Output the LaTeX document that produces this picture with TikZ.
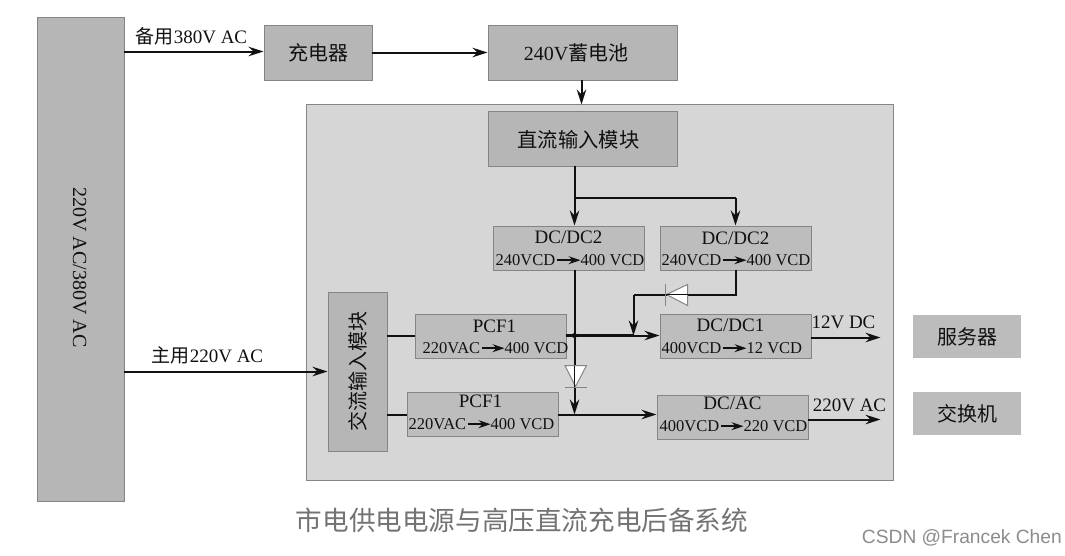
\documentclass[tikz,border=0pt]{standalone}
\usepackage{fontspec}
\setmainfont{Liberation Serif}
\newfontfamily\cj{Noto Sans CJK SC}
\newfontfamily\wm{Liberation Sans}
\usetikzlibrary{arrows.meta}
\definecolor{boxfill}{HTML}{B6B6B6}
\definecolor{innerfill}{HTML}{BDBDBD}
\definecolor{boxline}{HTML}{858585}
\definecolor{panelfill}{HTML}{D6D6D6}
\definecolor{ink}{HTML}{111111}
\newcommand{\fsz}[1]{\fontsize{#1}{#1}\selectfont}
\tikzset{
  x=1pt,y=-1pt,
  blockbox/.style={draw=boxline,fill=boxfill,line width=1pt,inner sep=0pt,text=ink,anchor=north west},
  innerbox/.style={blockbox,fill=innerfill},
  title/.style={inner sep=0pt,text=ink,font=\fsz{19},yshift=-0.7pt},
  sub/.style={inner sep=0pt,text=ink,font=\fsz{16.5},anchor=west,yshift=-0.7pt},
  lab/.style={inner sep=0pt,text=ink,font=\fsz{19},yshift=-0.7pt},
  wire/.style={draw=ink,line width=2pt},
  feed/.style={wire,-{Stealth[length=15pt,width=9.5pt,inset=5pt]}},
  tiny/.style={draw=ink,line width=1.5pt,-{Stealth[length=12pt,width=8pt,inset=4pt]},shorten <=1.5pt,shorten >=0pt},
  diode/.style={draw=boxline,fill=white,line width=1pt},
  bar/.style={draw=boxline,line width=1.3pt},
}
\begin{document}
\begin{tikzpicture}
\useasboundingbox (0.5,0.5) rectangle (1065.5,555.5);
\fill[white] (0.5,0.5) rectangle (1065.5,555.5);
% panel
\node[draw=boxline,fill=panelfill,line width=1pt,inner sep=0pt,anchor=north west,minimum width=587pt,minimum height=376pt] (panel) at (306,104) {};
% blocks
\node[blockbox,minimum width=87pt,minimum height=484pt] (mains) at (37,17) {};
\node[text=ink,inner sep=0pt,rotate=-90,font=\fsz{20}] (mainslab) at (80,268) {220V AC/380V AC};
\node[blockbox,minimum width=108pt,minimum height=55pt,font=\cj\fsz{20}] (charger) at (264,25) {充电器};
\node[blockbox,minimum width=189pt,minimum height=55pt] (batt) at (488,25) {};
\node[text=ink,inner sep=0pt,font=\fsz{20}] (battlab) at (576.5,53) {240V{\cj 蓄电池}};
\node[blockbox,minimum width=189pt,minimum height=55pt] (dcin) at (488,111) {};
\node[text=ink,inner sep=0pt,font=\cj\fsz{20.3}] (dcinlab) at (579,140) {直流输入模块};
\node[blockbox,minimum width=59pt,minimum height=159pt] (acin) at (328,292) {};
\node[text=ink,inner sep=0pt,rotate=90,font=\cj\fsz{20}] (aclab) at (358,372) {交流输入模块};
\node[blockbox,draw=none,fill=boxfill!92!white,minimum width=108pt,minimum height=43pt,font=\cj\fsz{20}] (server) at (913,315) {服务器};
\node[blockbox,draw=none,fill=boxfill!92!white,minimum width=108pt,minimum height=43pt,font=\cj\fsz{20}] (switch) at (913,392) {交换机};
% converters
\node[innerbox,minimum width=151pt,minimum height=44pt] (dca) at (493,226) {};
\node[innerbox,minimum width=151pt,minimum height=44pt] (dcb) at (660,226) {};
\node[innerbox,minimum width=151pt,minimum height=44pt] (pfa) at (415,314) {};
\node[innerbox,minimum width=151pt,minimum height=44pt] (pfb) at (407,392) {};
\node[innerbox,minimum width=151pt,minimum height=44pt] (dcone) at (660,314) {};
\node[innerbox,minimum width=151pt,minimum height=44pt] (dcac) at (657,395) {};
% converter texts
\node[title] (dcaT) at (569,237) {DC/DC2};
\node[sub] (dcaL) at (496,260) {240VCD};
\node[sub] (dcaR) at (581,260) {400 VCD};
\node[title] (dcbT) at (736,238) {DC/DC2};
\node[sub] (dcbL) at (662,260) {240VCD};
\node[sub] (dcbR) at (747,260) {400 VCD};
\node[title] (pfaT) at (495,326) {PCF1};
\node[sub] (pfaL) at (423,348) {220VAC};
\node[sub] (pfaR) at (505,348) {400 VCD};
\node[title] (pfbT) at (481,401) {PCF1};
\node[sub] (pfbL) at (409,424) {220VAC};
\node[sub] (pfbR) at (491,424) {400 VCD};
\node[title] (dcoT) at (731,325) {DC/DC1};
\node[sub] (dcoL) at (662,348) {400VCD};
\node[sub] (dcoR) at (747,348) {12 VCD};
\node[title] (dcxT) at (733,403) {DC/AC};
\node[sub] (dcxL) at (660,426) {400VCD};
\node[sub] (dcxR) at (744,426) {220 VCD};
\foreach \n in {dca,dcb,pfa,pfb,dco,dcx}{\draw[tiny] (\n L) -- (\n R);}
% labels
\node[lab] (l380) at (192,36) {{\cj 备用}380V AC};
\node[lab] (l220) at (208,355) {{\cj 主用}220V AC};
\node[lab] (l12) at (844,322) {12V DC};
\node[lab] (l220b) at (850,405) {220V AC};
% named junctions
\coordinate (m380) at (124,52);
\coordinate (m220) at (124,372);
\coordinate (c1) at (372,53);
\coordinate (b1) at (488,53);
\coordinate (bo) at (582,80);
\coordinate (pt) at (582,105);
\coordinate (do) at (575,166);
\coordinate (dj) at (575,198);
\coordinate (dcaT0) at (575,226);
\coordinate (dbj) at (736,198);
\coordinate (dcbT0) at (736,226);
\coordinate (dcaB) at (575,270);
\coordinate (hv) at (575,415);
\coordinate (hj) at (575,336);
\coordinate (dcbB) at (736,270);
\coordinate (dk) at (736,295);
\coordinate (dl) at (634,295);
\coordinate (dm) at (634,336);
\coordinate (o12) at (811,338);
\coordinate (e12) at (881,338);
\coordinate (o220) at (808,420);
\coordinate (e220) at (881,420);
\coordinate (aca) at (387,336);
\coordinate (acb) at (387,415);
\coordinate (pfaI) at (415,336);
\coordinate (pfbI) at (407,415);
\coordinate (pfaO) at (566,336);
\coordinate (pfbO) at (558,415);
\coordinate (dc1I) at (660,336);
\coordinate (dcxI) at (657,415);
\coordinate (acI) at (328,372);
\coordinate (chI) at (264,52);
% connectors
\draw[feed] (m380) -- (chI);
\draw[feed] (c1) -- (b1);
\draw[feed] (bo) -- (pt);
\draw[wire] (do) -- (dj);
\draw[feed] (dj) -- (dcaT0);
\draw[wire] (dj) -- (dbj);
\draw[feed] (dbj) -- (dcbT0);
\draw[feed] (m220) -- (acI);
\draw[wire] (aca) -- (pfaI);
\draw[wire] (acb) -- (pfbI);
\draw[feed] (pfaO) -- (dc1I);
\draw[wire,line width=2.6pt] (pfaO) -- (dm);
\draw[feed] (pfbO) -- (dcxI);
\draw[feed] (dcaB) -- (hv);
\draw[wire] (dcbB) -- (dk) -- (dl);
\draw[feed] (dl) -- (dm);
\draw[feed] (o12) -- (e12);
\draw[feed] (o220) -- (e220);
\fill[ink] (hj) circle (2.6pt);
% diodes
\draw[diode] (565.5,366) -- (587,366) -- (576,387) -- cycle;
\draw[wire,line width=1.2pt] (575,366) -- (575,388);
\draw[bar] (565,388) -- (587,388);
\draw[diode] (688,285) -- (688,306) -- (667,295) -- cycle;
\draw[wire,line width=1.2pt] (666,295) -- (688,295);
\draw[bar] (666,284) -- (666,306);
% caption
\node[inner sep=0pt,text=black!55,font=\cj\fsz{26.6}] (cap) at (522.5,521) {市电供电电源与高压直流充电后备系统};
\node[inner sep=0pt,text=black!45,font=\wm\fsz{19.2},anchor=east] (mark) at (1062.5,538) {CSDN @Francek Chen};
\end{tikzpicture}
\end{document}
